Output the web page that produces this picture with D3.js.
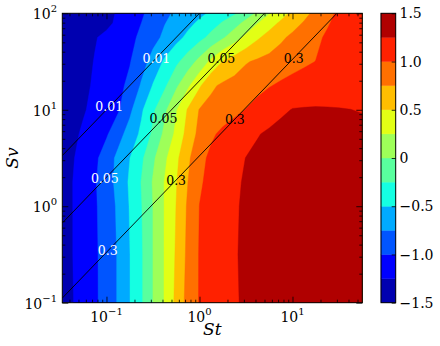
<!DOCTYPE html>
<html>
<head>
<meta charset="utf-8">
<script src="https://cdn.jsdelivr.net/npm/d3@7"></script>
<style>
  body { margin: 0; background: #fff; }
  svg { display: block; }
  text { font-family: "DejaVu Serif", serif; fill: #000; }
</style>
</head>
<body>
<svg id="chart" width="440" height="346"></svg>
<script>
// grid columns (log10 St) and rows (log10 Sv) of the sampled field
var ST_LOG = [-1.5, -1.375, -1.25, -1.125, -1, -0.875, -0.75, -0.625, -0.5, -0.375, -0.25, -0.125,
  0, 0.125, 0.25, 0.375, 0.5, 0.625, 0.75, 0.875, 1, 1.125, 1.25, 1.375, 1.5, 1.625, 1.75, 1.875];
var SV_LOG = [-1, -0.5, 0, 0.25, 0.5, 0.75, 1, 1.25, 1.5, 1.75, 1.9, 2];

// field values, one row per SV_LOG entry
var Z_SV_M100 = [-1.362, -1.269, -1.157, -1.041, -0.896, -0.729, -0.505, -0.281, 0.002, 0.265, 0.5625, 0.8375, 1.015, 1.086, 1.157, 1.228, 1.282, 1.328, 1.375, 1.42, 1.45, 1.45, 1.45, 1.45, 1.45, 1.45, 1.45, 1.45];
var Z_SV_M050 = [-1.354, -1.261, -1.151, -1.039, -0.896, -0.729, -0.505, -0.281, 0.002, 0.264, 0.531, 0.810, 1.016, 1.088, 1.161, 1.234, 1.286, 1.332, 1.379, 1.426, 1.45, 1.45, 1.45, 1.45, 1.45, 1.45, 1.45, 1.45];
var Z_SV_000 = [-1.354, -1.261, -1.148, -1.031, -0.882, -0.710, -0.486, -0.262, 0.002, 0.262, 0.506, 0.787, 1.003, 1.078, 1.152, 1.227, 1.282, 1.328, 1.375, 1.42, 1.45, 1.45, 1.45, 1.45, 1.45, 1.45, 1.45, 1.45];
var Z_SV_025 = [-1.354, -1.261, -1.143, -1.022, -0.860, -0.677, -0.466, -0.241, 0.021, 0.262, 0.486, 0.748, 0.971, 1.065, 1.139, 1.214, 1.274, 1.32, 1.367, 1.41, 1.45, 1.45, 1.45, 1.45, 1.45, 1.45, 1.45, 1.45];
var Z_SV_050 = [-1.37, -1.277, -1.168, -1.051, -0.884, -0.686, -0.504, -0.296, -0.045, 0.2, 0.443, 0.702, 0.933, 1.048, 1.118, 1.187, 1.254, 1.30, 1.347, 1.394, 1.44, 1.45, 1.45, 1.45, 1.45, 1.45, 1.45, 1.45];
var Z_SV_075 = [-1.402, -1.309, -1.216, -1.122, -1.028, -0.844, -0.645, -0.45, -0.205, 0.054, 0.306, 0.5975, 0.819, 0.964, 1.048, 1.111, 1.174, 1.237, 1.287, 1.334, 1.35, 1.35, 1.34, 1.33, 1.33, 1.32, 1.32, 1.32];
var Z_SV_100 = [-1.458, -1.365, -1.272, -1.188, -1.108, -1.027, -0.806, -0.536, -0.292, -0.05, 0.231, 0.5225, 0.763, 0.823, 0.884, 0.945, 1.006, 1.072, 1.138, 1.204, 1.26, 1.265, 1.265, 1.262, 1.258, 1.252, 1.237, 1.237];
var Z_SV_125 = [-1.49, -1.397, -1.304, -1.217, -1.139, -1.060, -0.947, -0.721, -0.483, -0.29, -0.04, 0.206, 0.466, 0.71, 0.791, 0.841, 0.89, 0.939, 0.988, 1.035, 1.08, 1.12, 1.15, 1.16, 1.16, 1.155, 1.15, 1.15];
var Z_SV_150 = [-1.49, -1.42, -1.328, -1.238, -1.163, -1.089, -1.014, -0.853, -0.661, -0.464, -0.302, -0.127, 0.073, 0.305, 0.507, 0.619, 0.731, 0.786, 0.829, 0.873, 0.916, 0.959, 1.003, 1.045, 1.08, 1.1, 1.1, 1.1];
var Z_SV_175 = [-1.49, -1.453, -1.36, -1.267, -1.192, -1.121, -1.05, -0.961, -0.83, -0.7, -0.573, -0.447, -0.321, -0.183, -0.03, 0.138, 0.306, 0.467, 0.593, 0.709, 0.801, 0.879, 0.958, 1.03, 1.07, 1.09, 1.1, 1.1];
var Z_SV_190 = [-1.49, -1.49, -1.46, -1.41, -1.31, -1.20, -1.11, -1.0, -0.88, -0.76, -0.66, -0.56, -0.46, -0.35, -0.23, -0.10, 0.07, 0.24, 0.40, 0.54, 0.66, 0.77, 0.87, 0.98, 1.06, 1.08, 1.09, 1.09];
var Z_SV_200 = [-1.49, -1.49, -1.46, -1.41, -1.318, -1.224, -1.127, -1.03, -0.92, -0.804, -0.708, -0.629, -0.551, -0.467, -0.373, -0.279, -0.132, 0.043, 0.2375, 0.401, 0.551, 0.683, 0.8125, 0.939, 1.04, 1.07, 1.09, 1.09];

var LEVELS = [-1.5, -1.25, -1, -0.75, -0.5, -0.25, 0, 0.25, 0.5, 0.75, 1, 1.25, 1.5];

// straight guide lines St/Sv = ratio, and their labels
var LINE_RATIOS = [0.01, 0.05, 0.3];
var LABEL_TEXT  = ["0.01", "0.01", "0.05", "0.05", "0.05", "0.3", "0.3", "0.3", "0.3"];
var LABEL_RATIO = [0.01, 0.01, 0.05, 0.05, 0.05, 0.3, 0.3, 0.3, 0.3];
var LABEL_SV    = [34.4, 10.7, 34.4, 8.2, 1.92, 34.4, 8.0, 1.87, 0.344];
var LABEL_COLOR = ["#fff", "#fff", "#000", "#000", "#fff", "#000", "#000", "#000", "#fff"];

var X_TICKS = [0.1, 1, 10];
var X_TICK_EXP = ["\u22121", "0", "1"];
var Y_TICKS = [0.1, 1, 10, 100];
var Y_TICK_EXP = ["\u22121", "0", "1", "2"];
var CB_TICKS = [-1.5, -1, -0.5, 0, 0.5, 1, 1.5];
var CB_LABELS = ["\u22121.5", "\u22121.0", "\u22120.5", "0", "0.5", "1.0", "1.5"];

(function () {
  'use strict';

  var left = 62.3, right = 362.3, top = 13.3, bottom = 302.7;
  var svg = d3.select("#chart");

  var x = d3.scaleLog().domain([0.0335, 56.3]).range([left, right]);
  var y = d3.scaleLog().domain([0.1, 100]).range([bottom, top]);

  // matplotlib "jet"
  var jr = d3.scaleLinear().domain([0, 0.35, 0.66, 0.89, 1]).range([0, 0, 1, 1, 0.5]);
  var jg = d3.scaleLinear().domain([0, 0.125, 0.375, 0.64, 0.91, 1]).range([0, 0, 1, 1, 0, 0]);
  var jb = d3.scaleLinear().domain([0, 0.11, 0.34, 0.65, 1]).range([0.5, 1, 1, 0, 0]);
  function jet(t) {
    return d3.rgb(jr(t) * 255, jg(t) * 255, jb(t) * 255).formatHex();
  }
  var nBands = LEVELS.length - 1;
  function bandColor(i) { return jet((i + 0.5) / nBands); }

  svg.append("defs").append("clipPath").attr("id", "plotclip")
    .append("rect").attr("x", left).attr("y", top)
    .attr("width", right - left).attr("height", bottom - top);

  // filled contours
  var rows = [Z_SV_M100, Z_SV_M050, Z_SV_000, Z_SV_025, Z_SV_050, Z_SV_075,
              Z_SV_100, Z_SV_125, Z_SV_150, Z_SV_175, Z_SV_190, Z_SV_200];
  var nx = ST_LOG.length, ny = SV_LOG.length;
  var values = [];
  rows.forEach(function (r) { values = values.concat(r); });

  var contours = d3.contours().size([nx, ny]).thresholds(LEVELS.slice(0, -1))(values);

  var colIdx = d3.scaleLinear().domain(d3.range(nx)).range(ST_LOG).clamp(true);
  var rowIdx = d3.scaleLinear().domain(d3.range(ny)).range(SV_LOG).clamp(true);
  var proj = d3.geoTransform({
    point: function (px, py) {
      this.stream.point(x(Math.pow(10, colIdx(px - 0.5))), y(Math.pow(10, rowIdx(py - 0.5))));
    }
  });
  var path = d3.geoPath(proj);

  var plot = svg.append("g").attr("clip-path", "url(#plotclip)");
  plot.append("g").selectAll("path")
    .data(contours)
    .enter().append("path")
      .attr("d", path)
      .attr("fill", function (d, i) { return bandColor(i); })
      .attr("stroke", function (d, i) { return bandColor(i); })
      .attr("stroke-width", 0.4);

  // guide lines
  var line = d3.line()
    .x(function (d) { return x(d[0]); })
    .y(function (d) { return y(d[1]); });
  plot.append("g").selectAll("path")
    .data(LINE_RATIOS)
    .enter().append("path")
      .attr("d", function (r) {
        var st = x.domain();
        return line([[st[0], st[0] / r], [st[1], st[1] / r]]);
      })
      .attr("fill", "none")
      .attr("stroke", "#000")
      .attr("stroke-width", 0.9);

  plot.append("g").selectAll("text")
    .data(LABEL_TEXT)
    .enter().append("text")
      .attr("x", function (d, i) { return x(LABEL_RATIO[i] * LABEL_SV[i]); })
      .attr("y", function (d, i) { return y(LABEL_SV[i]); })
      .attr("dy", "0.36em")
      .attr("text-anchor", "middle")
      .style("font-size", "12.5px")
      .style("fill", function (d, i) { return LABEL_COLOR[i]; })
      .text(function (d) { return d; });

  // ticks, pointing inward on all sides
  function minors(lo, hi) {
    var out = [];
    for (var e = Math.floor(Math.log10(lo)); e <= Math.ceil(Math.log10(hi)); e++) {
      for (var m = 2; m <= 9; m++) {
        var v = m * Math.pow(10, e);
        if (v > lo && v < hi) out.push(v);
      }
    }
    return out;
  }
  var xMin = minors(x.domain()[0], x.domain()[1]);
  var yMin = minors(y.domain()[0], y.domain()[1]);
  function addAxis(axis, tx, ty) {
    svg.append("g").attr("transform", "translate(" + tx + "," + ty + ")")
      .call(axis.tickFormat("").tickSizeOuter(0))
      .call(function (g) { g.select(".domain").remove(); g.selectAll("line").attr("stroke-width", 0.8); });
  }
  addAxis(d3.axisBottom(x).tickValues(X_TICKS).tickSizeInner(-6), 0, bottom);
  addAxis(d3.axisBottom(x).tickValues(xMin).tickSizeInner(-3), 0, bottom);
  addAxis(d3.axisTop(x).tickValues(X_TICKS).tickSizeInner(-6), 0, top);
  addAxis(d3.axisTop(x).tickValues(xMin).tickSizeInner(-3), 0, top);
  addAxis(d3.axisLeft(y).tickValues(Y_TICKS).tickSizeInner(-6), left, 0);
  addAxis(d3.axisLeft(y).tickValues(yMin).tickSizeInner(-3), left, 0);
  addAxis(d3.axisRight(y).tickValues(Y_TICKS).tickSizeInner(-6), right, 0);
  addAxis(d3.axisRight(y).tickValues(yMin).tickSizeInner(-3), right, 0);

  svg.append("rect")
    .attr("x", left).attr("y", top)
    .attr("width", right - left).attr("height", bottom - top)
    .attr("fill", "none").attr("stroke", "#000").attr("stroke-width", 1);

  // tick labels with superscript exponents
  var xl = svg.append("g").selectAll("text")
    .data(X_TICKS)
    .enter().append("text")
      .attr("x", function (d) { return x(d); })
      .attr("y", 322)
      .attr("text-anchor", "middle")
      .style("font-size", "14px");
  xl.append("tspan").text("10");
  xl.append("tspan").attr("dy", -7).style("font-size", "10px")
    .text(function (d, i) { return X_TICK_EXP[i]; });

  var yl = svg.append("g").selectAll("text")
    .data(Y_TICKS)
    .enter().append("text")
      .attr("x", 57)
      .attr("y", function (d) { return y(d) + 6; })
      .attr("text-anchor", "end")
      .style("font-size", "14px");
  yl.append("tspan").text("10");
  yl.append("tspan").attr("dy", -7).style("font-size", "10px")
    .text(function (d, i) { return Y_TICK_EXP[i]; });

  // axis titles
  svg.append("text")
    .attr("x", (left + right) / 2).attr("y", 335)
    .attr("text-anchor", "middle")
    .style("font-size", "17px").style("font-style", "italic")
    .text("St");
  svg.append("text")
    .attr("transform", "translate(18," + ((top + bottom) / 2) + ") rotate(-90)")
    .attr("text-anchor", "middle")
    .style("font-size", "17px").style("font-style", "italic")
    .text("Sv");

  // colorbar
  var cbL = 381, cbR = 395.7;
  var cb = d3.scaleLinear().domain([LEVELS[0], LEVELS[LEVELS.length - 1]]).range([bottom, top]);
  svg.append("g").selectAll("rect")
    .data(LEVELS.slice(0, -1))
    .enter().append("rect")
      .attr("x", cbL)
      .attr("y", function (d, i) { return cb(LEVELS[i + 1]); })
      .attr("width", cbR - cbL)
      .attr("height", function (d, i) { return cb(LEVELS[i]) - cb(LEVELS[i + 1]); })
      .attr("fill", function (d, i) { return bandColor(i); })
      .attr("stroke", function (d, i) { return bandColor(i); })
      .attr("stroke-width", 0.4);
  svg.append("g").attr("transform", "translate(" + cbR + ",0)")
    .call(d3.axisRight(cb).tickValues(CB_TICKS).tickSizeInner(-4).tickSizeOuter(0).tickFormat(""))
    .call(function (g) { g.select(".domain").remove(); g.selectAll("line").attr("stroke-width", 0.8); });
  svg.append("rect")
    .attr("x", cbL).attr("y", top)
    .attr("width", cbR - cbL).attr("height", bottom - top)
    .attr("fill", "none").attr("stroke", "#000").attr("stroke-width", 1);
  svg.append("g").selectAll("text")
    .data(CB_TICKS)
    .enter().append("text")
      .attr("x", 399.5)
      .attr("y", function (d) { return cb(d); })
      .attr("dy", "0.36em")
      .style("font-size", "14px")
      .text(function (d, i) { return CB_LABELS[i]; });
})();
</script>
</body>
</html>
